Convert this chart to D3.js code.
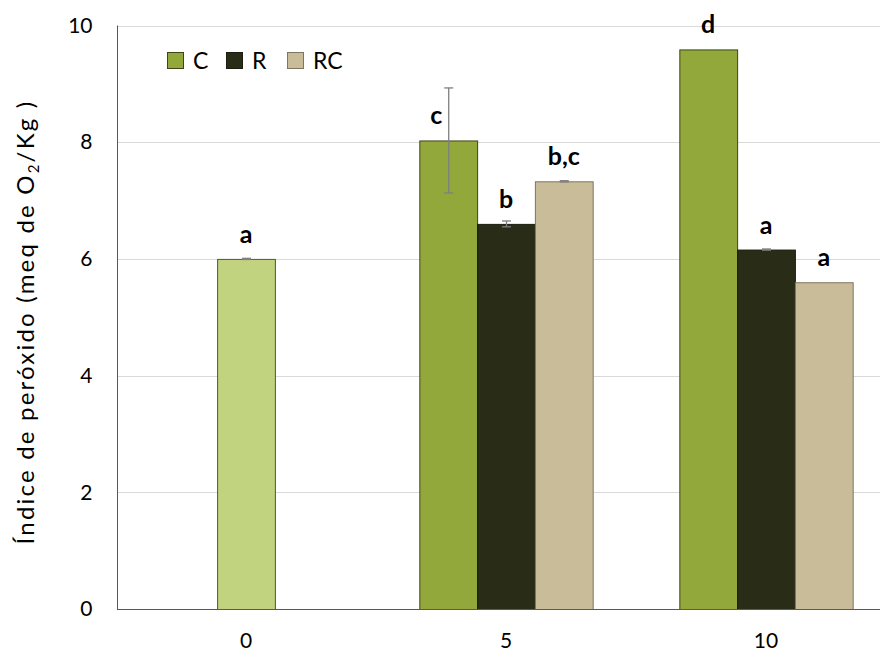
<!DOCTYPE html>
<html>
<head>
<meta charset="utf-8">
<script src="https://cdn.jsdelivr.net/npm/d3@7"></script>
<style>
  html, body { margin: 0; padding: 0; background: #fff; }
  svg { display: block; font-family: Lato, "Open Sans", sans-serif; }
</style>
</head>
<body>
<svg id="chart" width="882" height="654"></svg>
<script>
// Storage time (days)
const categories = ["0", "5", "10"];
const seriesNames = ["C", "R", "RC"];

// Day 0: single initial sample
const initialValue = 6.0;
const initialError = 0.01;
const initialLetter = "a";

// Peroxide index per treatment at days 5 and 10 (null = not measured)
const valuesC  = [null, 8.03, 9.59];
const valuesR  = [null, 6.60, 6.16];
const valuesRC = [null, 7.33, 5.60];

const errorsC  = [null, 0.90, 0];
const errorsR  = [null, 0.05, 0.01];
const errorsRC = [null, 0.01, 0];

const lettersC  = [null, "c", "d"];
const lettersR  = [null, "b", "a"];
const lettersRC = [null, "b,c", "a"];

const yTicks = [0, 2, 4, 6, 8, 10];

const colors = { C: "#93a83b", R: "#292c16", RC: "#c9bc98", initial: "#c1d37f" };
const strokes = { C: "#3d4519", R: "#1b1d0e", RC: "#7d7560", initial: "#4e5a2a" };

const svg = d3.select("#chart");
const plotLeft = 117, plotRight = 880, plotTop = 25.5, plotBottom = 609;

const x = d3.scaleBand().domain(categories).range([plotLeft - 1, plotLeft - 1 + 260 * 3]).padding(0);
const barW = x.bandwidth() / 4.5;
const inner = d3.scaleBand().domain(seriesNames).range([0, barW * 3]).padding(0);
const y = d3.scaleLinear().domain([0, 10]).range([plotBottom, plotTop]);

// Gridlines
svg.append("g").selectAll("line").data(yTicks.filter(d => d > 0)).join("line")
  .attr("x1", plotLeft).attr("x2", plotRight)
  .attr("y1", d => Math.round(y(d)) + 0.5).attr("y2", d => Math.round(y(d)) + 0.5)
  .attr("stroke", "#d9d9d9").attr("stroke-width", 1);

// Build bar records
const bars = [];
bars.push({ cat: "0", key: "initial", value: initialValue, err: initialError, letter: initialLetter,
  x0: x("0") + x.bandwidth() / 2 - barW / 2 });
const vals = { C: valuesC, R: valuesR, RC: valuesRC };
const errs = { C: errorsC, R: errorsR, RC: errorsRC };
const lets = { C: lettersC, R: lettersR, RC: lettersRC };
categories.forEach((c, i) => {
  seriesNames.forEach(s => {
    if (vals[s][i] == null) return;
    bars.push({ cat: c, key: s, value: vals[s][i], err: errs[s][i], letter: lets[s][i],
      x0: x(c) + (x.bandwidth() - barW * 3) / 2 + inner(s) });
  });
});

// Bars
svg.append("g").selectAll("rect").data(bars).join("rect")
  .attr("x", d => d.x0 + 0.5)
  .attr("y", d => y(d.value) + 0.5)
  .attr("width", barW)
  .attr("height", d => plotBottom - y(d.value))
  .attr("fill", d => colors[d.key])
  .attr("stroke", d => strokes[d.key])
  .attr("stroke-width", 1);

// Error bars
const eb = svg.append("g").attr("stroke", "#7f7f7f").attr("stroke-width", 1.3);
bars.filter(d => d.err > 0).forEach(d => {
  const cx = d.x0 + barW / 2 + 0.5;
  const y1 = y(d.value + d.err), y2 = y(d.value - d.err);
  eb.append("line").attr("x1", cx).attr("x2", cx).attr("y1", y1).attr("y2", y2);
  eb.append("line").attr("x1", cx - 4.5).attr("x2", cx + 4.5).attr("y1", y1).attr("y2", y1);
  eb.append("line").attr("x1", cx - 4.5).attr("x2", cx + 4.5).attr("y1", y2).attr("y2", y2);
});

// Significance letters above bars (moved aside when a tall error bar is in the way)
svg.append("g").selectAll("text").data(bars).join("text")
  .attr("x", d => d.x0 + barW / 2 + (y(d.value + d.err) < y(d.value) - 20 ? -12 : 0))
  .attr("y", d => y(d.value) - 16)
  .attr("text-anchor", "middle")
  .attr("font-weight", "bold")
  .attr("font-size", 25)
  .attr("fill", "#000")
  .text(d => d.letter);

// Y axis
const yAxis = d3.axisLeft(y).tickValues(yTicks).tickSize(0).tickPadding(25).tickFormat(d3.format("d"));
const gy = svg.append("g").attr("transform", `translate(${plotLeft + 0.5},0)`).call(yAxis);
gy.select(".domain").attr("stroke", "#595959").attr("d", `M0,${plotTop}V${plotBottom}`);
gy.selectAll("text").attr("font-size", 21).attr("fill", "#000").attr("font-family", "Lato, sans-serif");

// X axis
const xAxis = d3.axisBottom(x).tickSize(0).tickPadding(24);
const gx = svg.append("g").attr("transform", `translate(0,${plotBottom + 0.5})`).call(xAxis);
gx.select(".domain").attr("stroke", "#595959").attr("d", `M${plotLeft},0H${plotRight}`);
gx.selectAll("text").attr("font-size", 21).attr("fill", "#000").attr("font-family", "Lato, sans-serif");

// Y axis title
const title = svg.append("text")
  .attr("transform", "translate(34,322) rotate(-90)")
  .attr("text-anchor", "middle")
  .attr("font-size", 24)
  .attr("letter-spacing", 2.2)
  .attr("fill", "#000");
title.append("tspan").text("Índice de peróxido (meq de O");
title.append("tspan").attr("dy", 5).attr("font-size", 15).text("2");
title.append("tspan").attr("dy", -5).text("/Kg )");

// Legend
const legendItems = seriesNames.map((s, i) => ({ s, xs: [167, 226, 287][i] }));
const lg = svg.append("g");
lg.selectAll("rect").data(legendItems).join("rect")
  .attr("x", d => d.xs + 0.5).attr("y", 52.5).attr("width", 16).attr("height", 16)
  .attr("fill", d => colors[d.s]).attr("stroke", d => strokes[d.s]);
lg.selectAll("text").data(legendItems).join("text")
  .attr("x", d => d.xs + 26).attr("y", 61).attr("dy", "0.35em")
  .attr("font-size", 23).attr("fill", "#000")
  .text(d => d.s);
</script>
</body>
</html>
